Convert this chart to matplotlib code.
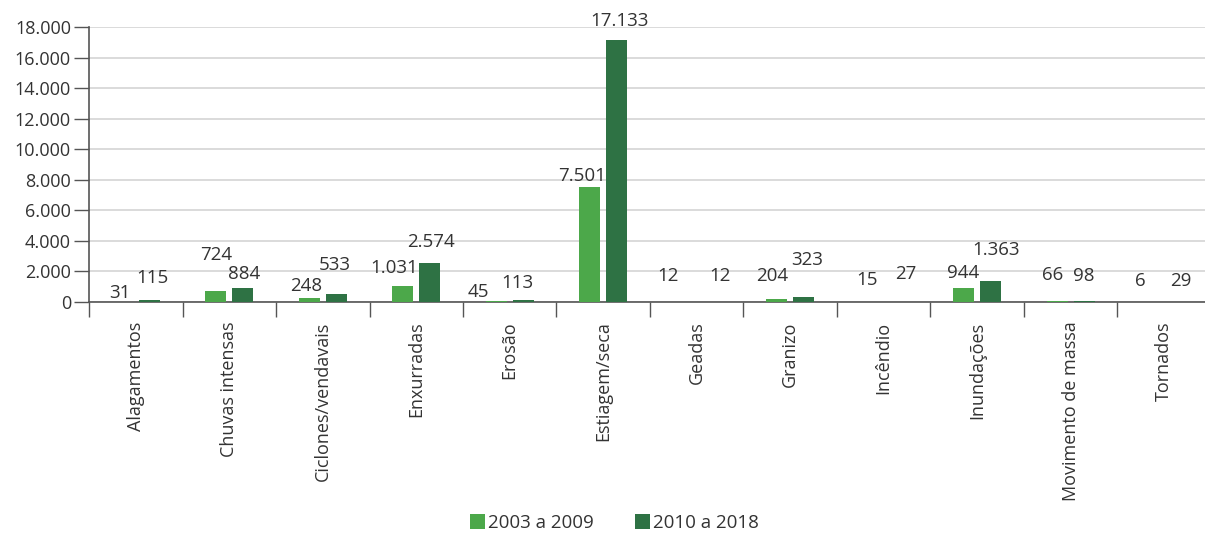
import numpy as np
import matplotlib
matplotlib.use("Agg")
import matplotlib.pyplot as plt
from matplotlib.ticker import FuncFormatter, MultipleLocator

plt.rcParams['font.family'] = ['Open Sans', 'DejaVu Sans']

# data
categorias = ['Alagamentos', 'Chuvas intensas', 'Ciclones/vendavais', 'Enxurradas',
              'Erosão', 'Estiagem/seca', 'Geadas', 'Granizo', 'Incêndio',
              'Inundações', 'Movimento de massa', 'Tornados']
s2003 = [31, 724, 248, 1031, 45, 7501, 12, 204, 15, 944, 66, 6]
s2010 = [115, 884, 533, 2574, 113, 17133, 12, 323, 27, 1363, 98, 29]
series_labels = ['2003 a 2009', '2010 a 2018']

# value label offsets in pixels (the original staggers them by hand)
dx1 = [-2, 0, -3, -9, -18, -8, -15, -5, -3, -1, -5, -10]
dy1 = [9, 36, 12, 18, 9, 11, 26, 23, 22, 15, 26, 21]
dx2 = [3, 1, -1, 1, -6, 3, 10, 3, 9, 5, 0, 3]
dy2 = [22, 14, 29, 21, 17, 19, 26, 37, 28, 31, 25, 21]

c1 = '#4ca84a'
c2 = '#2e7244'
txt = '#333333'

fig = plt.figure(figsize=(12.05, 5.33), dpi=100)
ax = fig.add_axes([0.0739, 0.4334, 0.931, 0.5159])

x = np.arange(len(categorias))
w = 0.225
off = 0.144
ax.bar(x - off, s2003, w, color=c1, label=series_labels[0], zorder=3)
ax.bar(x + off, s2010, w, color=c2, label=series_labels[1], zorder=3)

def fmt(v):
    return f'{v:,.0f}'.replace(',', '.')

for i in range(len(x)):
    ax.annotate(fmt(s2003[i]), (x[i] - off, s2003[i]), xytext=(dx1[i], dy1[i]),
                textcoords='offset pixels', ha='center', va='center',
                fontsize=13.5, color=txt, zorder=4)
    ax.annotate(fmt(s2010[i]), (x[i] + off, s2010[i]), xytext=(dx2[i], dy2[i]),
                textcoords='offset pixels', ha='center', va='center',
                fontsize=13.5, color=txt, zorder=4)

ax.set_xlim(-0.5, len(categorias) - 0.5)
ax.set_ylim(0, 18000)
ax.yaxis.set_major_locator(MultipleLocator(2000))
ax.yaxis.set_major_formatter(FuncFormatter(lambda v, p: fmt(v)))
ax.grid(axis='y', color='#d4d4d4', linewidth=1.2, zorder=0)

ax.set_xticks(x)
ax.set_xticklabels(categorias, rotation=90, fontsize=13, color=txt)
ax.tick_params(axis='x', which='major', length=0, pad=14)
ax.set_xticks(np.arange(len(categorias) + 1) - 0.5, minor=True)
ax.tick_params(axis='x', which='minor', length=11, width=1, color='#555555')
ax.tick_params(axis='y', length=11, width=1, color='#555555', labelsize=13,
               labelcolor=txt, pad=2)

for s in ['top', 'right']:
    ax.spines[s].set_visible(False)
ax.spines['left'].set_color('#555555')
ax.spines['bottom'].set_color('#555555')
ax.spines['left'].set_linewidth(1.2)
ax.spines['bottom'].set_linewidth(1.2)

fig.legend(loc='lower center', bbox_to_anchor=(0.51, -0.012), ncol=2, frameon=False,
           fontsize=13.5, handlelength=0.8, handleheight=0.8, handletextpad=0.15,
           columnspacing=2.2, labelcolor=txt, borderaxespad=0)

fig.savefig('out.png', dpi=100)
